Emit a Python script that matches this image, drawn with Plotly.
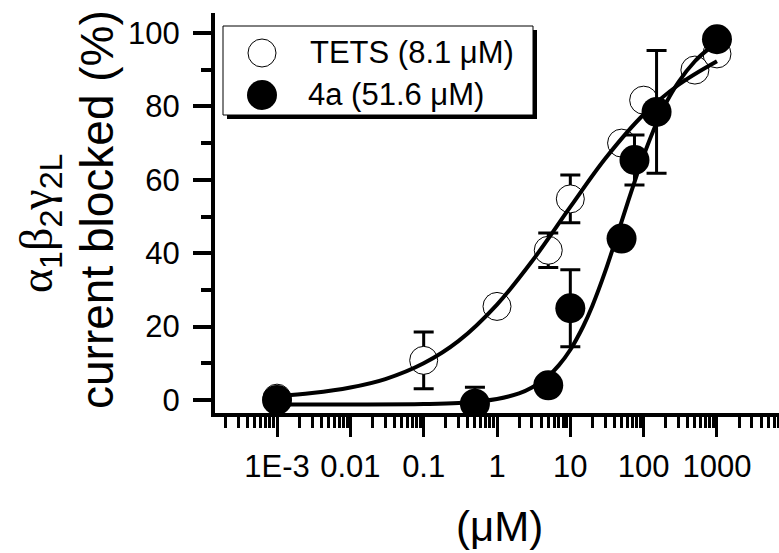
import plotly.graph_objects as go

# Measured block of alpha1beta2gamma2L current (mean +/- error)
tets_conc = [0.001, 0.1, 1, 5, 10, 50, 100, 500, 1000]
tets_block = [0.5, 10.8, 25.5, 40.8, 54.8, 70.0, 81.7, 89.9, 94.3]
tets_err = [0, 7.7, 2.5, 4.7, 6.5, 0, 0, 0, 0]

a4_conc = [0.001, 0.5, 5, 10, 50, 75, 150, 1000]
a4_block = [0.0, -1.0, 4.0, 25.0, 44.0, 65.4, 78.5, 98.3]
a4_err = [0, 4.5, 0, 10.5, 0, 6.8, 16.7, 0]

# Concentration-response fit curves (IC50 8.1 uM and 51.6 uM)
tets_fit_conc = [0.001, 0.003, 0.01, 0.03, 0.1, 0.3, 1, 3, 10, 30, 100, 300, 1000]
tets_fit_block = [1.1, 1.9, 3.4, 5.7, 10.0, 16.1, 26.0, 37.8, 52.6, 65.8, 77.8, 85.9, 92.3]

a4_fit_conc = [0.001, 0.01, 0.1, 0.3, 1, 2, 3, 5, 7, 10, 15, 20, 30, 50, 70,
               100, 150, 200, 300, 500, 700, 1000]
a4_fit_block = [-1.2, -1.2, -1.1, -0.8, 0.3, 1.8, 3.4, 6.5, 9.5, 13.7, 20.1, 25.7,
                35.1, 48.6, 57.6, 66.6, 75.5, 80.8, 86.7, 92.3, 95.0, 97.4]

# Axis ticks
x_tickvals = [1e-3, 1e-2, 1e-1, 1, 10, 100, 1000]
x_ticktext = ["1E-3", "0.01", "0.1", "1", "10", "100", "1000"]
x_minorvals = [m * 10.0 ** k for k in range(-4, 4) for m in range(2, 10)]
y_tickvals = [0, 20, 40, 60, 80, 100]
y_minorvals = [10, 30, 50, 70, 90]

legend_labels = ["TETS (8.1 \u03bcM)", "4a (51.6 \u03bcM)"]

W, H = 779, 553
ML, MR, MT, MB = 215, 0, 13, 140
PW, PH = W - ML - MR, H - MT - MB


def px(x):
    return (x - ML) / PW


def py(y):
    return (H - MB - y) / PH


FONT = "Liberation Sans, Arial, sans-serif"
SERIF = "'Liberation Serif'"

fig = go.Figure()

fig.add_trace(go.Scatter(
    x=tets_conc, y=tets_block, mode="markers", showlegend=False,
    marker=dict(symbol="circle", size=28, color="white",
                line=dict(color="black", width=1)),
    error_y=dict(type="data", array=tets_err, visible=True,
                 color="black", thickness=3, width=10),
))

fig.add_trace(go.Scatter(
    x=tets_fit_conc, y=tets_fit_block, mode="lines", showlegend=False,
    line=dict(color="black", width=4, shape="spline", smoothing=1.0),
))
fig.add_trace(go.Scatter(
    x=a4_fit_conc, y=a4_fit_block, mode="lines", showlegend=False,
    line=dict(color="black", width=4, shape="spline", smoothing=1.0),
))

fig.add_trace(go.Scatter(
    x=a4_conc, y=a4_block, mode="markers", showlegend=False,
    marker=dict(symbol="circle", size=30, color="black",
                line=dict(color="black", width=0)),
    error_y=dict(type="data", array=a4_err, visible=True,
                 color="black", thickness=3, width=10),
))

shapes = [
    # legend frame with drop shadow
    dict(type="rect", xref="paper", yref="paper", layer="above",
         x0=px(227), x1=px(537), y0=py(119), y1=py(30),
         fillcolor="black", line=dict(width=0)),
    dict(type="rect", xref="paper", yref="paper", layer="above",
         x0=px(223), x1=px(533), y0=py(115), y1=py(26),
         fillcolor="white", line=dict(color="black", width=1)),
    # legend symbols
    dict(type="circle", xref="paper", yref="paper", layer="above",
         x0=px(248), x1=px(276), y0=py(67), y1=py(39),
         fillcolor="white", line=dict(color="black", width=1)),
    dict(type="circle", xref="paper", yref="paper", layer="above",
         x0=px(247), x1=px(277), y0=py(110), y1=py(80),
         fillcolor="black", line=dict(color="black", width=0)),
]

greek = (f"<span style=\"font-family:{SERIF}\">\u03b1</span><sub>1</sub>"
         f"<span style=\"font-family:{SERIF}\">\u03b2</span><sub>2</sub>"
         f"<span style=\"font-family:{SERIF}\">\u03b3</span><sub>2L</sub>")

annotations = [
    dict(text=legend_labels[0], xref="paper", yref="paper", x=px(308), y=py(53),
         xanchor="left", yanchor="middle", showarrow=False,
         font=dict(family=FONT, size=31, color="black")),
    dict(text=legend_labels[1], xref="paper", yref="paper", x=px(306), y=py(95),
         xanchor="left", yanchor="middle", showarrow=False,
         font=dict(family=FONT, size=31, color="black")),
    # y-axis title (two lines)
    dict(text="current blocked (%)", xref="paper", yref="paper",
         x=px(97), y=py(210), xanchor="center", yanchor="middle",
         textangle=-90, showarrow=False,
         font=dict(family=FONT, size=46, color="black")),
    dict(text=greek, xref="paper", yref="paper",
         x=px(40), y=py(224), xanchor="center", yanchor="middle",
         textangle=-90, showarrow=False,
         font=dict(family=FONT, size=46, color="black")),
    # x-axis title
    dict(text="(\u03bcM)", xref="paper", yref="paper",
         x=px(499), y=py(526), xanchor="center", yanchor="middle",
         showarrow=False, font=dict(family=FONT, size=42, color="black")),
]

fig.update_layout(
    width=W, height=H,
    margin=dict(l=ML, r=MR, t=MT, b=MB, pad=0),
    paper_bgcolor="white", plot_bgcolor="white",
    showlegend=False,
    shapes=shapes,
    annotations=annotations,
    xaxis=dict(
        type="log", range=[-3.846, 3.846],
        tickmode="array", tickvals=x_tickvals, ticktext=x_ticktext,
        ticks="outside", ticklen=20, tickwidth=3, tickcolor="black",
        showline=True, linewidth=4, linecolor="black",
        showgrid=False, zeroline=False,
        ticklabelstandoff=3,
        tickfont=dict(family=FONT, size=31, color="black"),
        minor=dict(tickmode="array", tickvals=x_minorvals, ticks="outside",
                   ticklen=11, tickwidth=3, tickcolor="black", showgrid=False),
    ),
    yaxis=dict(
        range=[-3.54, 105.45],
        tickmode="array", tickvals=y_tickvals,
        ticks="outside", ticklen=18, tickwidth=4, tickcolor="black",
        showline=True, linewidth=4, linecolor="black",
        showgrid=False, zeroline=False,
        ticklabelstandoff=7,
        tickfont=dict(family=FONT, size=31, color="black"),
        minor=dict(tickmode="array", tickvals=y_minorvals, ticks="outside",
                   ticklen=10, tickwidth=4, tickcolor="black", showgrid=False),
    ),
)

fig.write_html("out.html")
